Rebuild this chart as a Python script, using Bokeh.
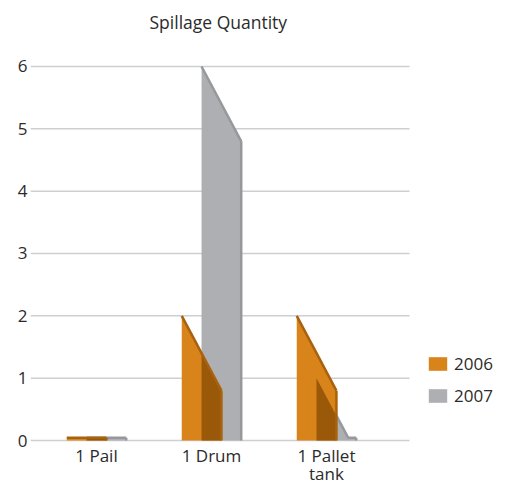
from bokeh.plotting import figure
from bokeh.models import Range1d, FixedTicker, Legend, LegendItem
from bokeh.core.properties import value
from bokeh.embed import file_html
from bokeh.resources import INLINE

# ---- data ----
categories = ["1 Pail", "1 Drum", "1 Pallet\ntank"]
series = ["2006", "2007"]
values_2006 = [0, 2, 2]
values_2007 = [0, 6, 1]
y_ticks = [0, 1, 2, 3, 4, 5, 6]
title_text = "Spillage Quantity"

# ---- style ----
FONT = "Open Sans"
FS = "17px"
TEXT_COLOR = "#2B2B2B"
fill_colors = ["#D9831B", "#AEAFB3"]
edge_colors = ["#A8620E", "#97989C"]
overlap_color = "#9A5908"
GRID_COLOR = "#CFCFCF"
BAR_W = 0.345
OFFSETS = [-0.086, 0.086]
SLANT = 1.2      # drop of the slanted top across one bar width
MIN_H = 0.045    # visible thickness of zero-height bars
X_START, X_END, GRID_END = 0.426, 4.583, 3.722
Y_START, Y_END = -0.770, 6.417
LABEL_Y = -0.064

centers = list(range(1, len(categories) + 1))
all_values = [values_2006, values_2007]


def top_fn(left, v):
    def f(x):
        return max(v - SLANT * (x - left) / BAR_W, MIN_H)
    return f


def kink(left, v):
    return left + max(v - MIN_H, 0) / SLANT * BAR_W


def bar_geom(center, off, v):
    left = center + off - BAR_W / 2
    right = center + off + BAR_W / 2
    f = top_fn(left, v)
    pts = sorted({left, right, min(max(kink(left, v), left), right)})
    tops = [f(x) for x in pts]
    return [left] + pts + [right], [0] + tops + [0], pts, tops, right, f(right)


p = figure(width=508, height=488, output_backend="svg", toolbar_location=None,
           x_range=Range1d(X_START, X_END), y_range=Range1d(Y_START, Y_END),
           min_border_left=30, min_border_top=40, min_border_bottom=0,
           min_border_right=0)

# horizontal gridlines (limited to the plot area, legend sits to the right)
p.segment(x0=[X_START] * len(y_ticks), x1=[GRID_END] * len(y_ticks),
          y0=y_ticks, y1=y_ticks, line_color=GRID_COLOR, line_width=1.5)

rends = {}
geoms = {}
for si in (1, 0):  # gray first, orange on top
    xs_all, ys_all, g = [], [], []
    for ci, c in enumerate(centers):
        xs, ys, tx, ty, r, rt = bar_geom(c, OFFSETS[si], all_values[si][ci])
        xs_all.append(xs)
        ys_all.append(ys)
        g.append((tx, ty, r, rt))
    geoms[si] = g
    rends[si] = p.patches(xs_all, ys_all, fill_color=fill_colors[si], line_color=None)
    if si == 1:
        for tx, ty, r, rt in g:
            p.line(tx, ty, line_color=edge_colors[si], line_width=2.5)
            p.line([r, r], [0, rt], line_color=edge_colors[si], line_width=2.5)

# overlap region (orange front over the gray bar)
ox, oy = [], []
for ci, c in enumerate(centers):
    l0 = c + OFFSETS[0] - BAR_W / 2
    l1 = c + OFFSETS[1] - BAR_W / 2
    f0 = top_fn(l0, values_2006[ci])
    f1 = top_fn(l1, values_2007[ci])
    a, b = l1, l0 + BAR_W
    pts = {a, b}
    for l, v in ((l0, values_2006[ci]), (l1, values_2007[ci])):
        k = kink(l, v)
        if a < k < b:
            pts.add(k)
    pts = sorted(pts)
    ox.append([a] + pts + [b])
    oy.append([0] + [min(f0(x), f1(x)) for x in pts] + [0])
p.patches(ox, oy, fill_color=overlap_color, line_color=None)

for tx, ty, r, rt in geoms[0]:
    p.line(tx, ty, line_color=edge_colors[0], line_width=2.5)
    p.line([r, r], [0, rt], line_color=edge_colors[0], line_width=2.5)

# category labels under the bars
p.text(x=centers, y=[LABEL_Y] * len(centers), text=categories,
       text_font=value(FONT), text_font_size=FS, text_color=TEXT_COLOR,
       text_align="center", text_baseline="top", text_line_height=0.78)

legend = Legend(items=[LegendItem(label=series[0], renderers=[rends[0]]),
                       LegendItem(label=series[1], renderers=[rends[1]])],
                location=(396, 81),
                label_text_font=FONT, label_text_font_size=FS,
                label_text_color=TEXT_COLOR, glyph_width=23, glyph_height=17,
                label_height=20, spacing=9, label_standoff=5,
                border_line_color=None, background_fill_alpha=0,
                margin=0, padding=10)
p.add_layout(legend)

# title
p.title.text = title_text
p.title.align = "left"
p.title.offset = 119
p.title.standoff = 14
p.title.text_font = FONT
p.title.text_font_size = "17.5px"
p.title.text_font_style = "normal"
p.title.text_color = TEXT_COLOR

# axes
p.xaxis.visible = False
p.yaxis.ticker = FixedTicker(ticks=y_ticks)
p.yaxis.axis_line_color = None
p.yaxis.major_tick_line_color = None
p.yaxis.minor_tick_line_color = None
p.yaxis.major_tick_out = 0
p.yaxis.major_tick_in = 0
p.yaxis.minor_tick_out = 0
p.yaxis.major_label_text_font = FONT
p.yaxis.major_label_text_font_size = FS
p.yaxis.major_label_text_color = TEXT_COLOR
p.yaxis.major_label_standoff = 3

p.xgrid.grid_line_color = None
p.ygrid.grid_line_color = None
p.outline_line_color = None

open("out.html", "w").write(file_html(p, INLINE))
